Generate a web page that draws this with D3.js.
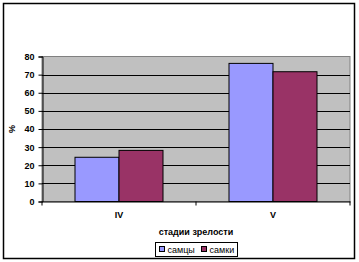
<!DOCTYPE html>
<html>
<head>
<meta charset="utf-8">
<script src="https://cdn.jsdelivr.net/npm/d3@7"></script>
<style>
  body { margin: 0; background: #fff; }
  text { font-family: "Liberation Sans", Arial, sans-serif; }
</style>
</head>
<body>
<script>
const w = 359;
const h = 262;

// data
const stages = ["IV", "V"];
const seriesNames = ["самцы", "самки"];
const males = [24.4, 76.2];
const females = [28.2, 71.6];
const yTicks = [0, 10, 20, 30, 40, 50, 60, 70, 80];
const colors = ["#9999ff", "#993366"];

const series = [males, females];

const svg = d3.select("body").append("svg").attr("width", w).attr("height", h);

// outer frame
svg.append("rect")
    .attr("x", 3.5).attr("y", 3.5)
    .attr("width", 351).attr("height", 255)
    .attr("fill", "#fff")
    .attr("stroke", "#000")
    .attr("stroke-width", 1.5);

const plot = {left: 42, right: 350, top: 56.5, bottom: 201.5};

const x = d3.scaleBand()
    .domain(stages)
    .range([plot.left, plot.right]);

const xs = d3.scaleBand()
    .domain(d3.range(series.length))
    .range([0, x.bandwidth()])
    .paddingOuter(33 / 44)
    .paddingInner(0);

const y = d3.scaleLinear()
    .domain([0, 80])
    .range([plot.bottom, plot.top]);

// plot background
svg.append("rect")
    .attr("x", plot.left).attr("y", plot.top)
    .attr("width", plot.right - plot.left).attr("height", plot.bottom - plot.top)
    .attr("fill", "#c0c0c0")
    .attr("stroke", "#808080")
    .attr("stroke-width", 1);

// gridlines
svg.append("g")
    .selectAll("line")
    .data(yTicks.slice(1, -1))
    .join("line")
    .attr("x1", plot.left).attr("x2", plot.right)
    .attr("y1", d => Math.round(y(d)) + 0.5)
    .attr("y2", d => Math.round(y(d)) + 0.5)
    .attr("stroke", "#000");

// bars
series.forEach((vals, si) => {
    svg.append("g")
        .selectAll("rect")
        .data(vals)
        .join("rect")
        .attr("x", (d, i) => x(stages[i]) + xs(si))
        .attr("y", d => y(d))
        .attr("width", xs.bandwidth())
        .attr("height", d => y(0) - y(d))
        .attr("fill", colors[si])
        .attr("stroke", "#000")
        .attr("stroke-width", 1);
});

// y axis
const yAxis = svg.append("g")
    .attr("transform", `translate(${plot.left + 0.5},0)`)
    .call(d3.axisLeft(y).tickValues(yTicks).tickSize(4).tickPadding(4));
yAxis.select(".domain").attr("stroke", "#000");
yAxis.selectAll("text")
    .attr("font-size", "9px")
    .attr("font-weight", "bold")
    .attr("fill", "#000");

// x axis
const xAxis = svg.append("g")
    .attr("transform", `translate(0,${plot.bottom})`)
    .call(d3.axisBottom(x).tickSize(0).tickPadding(10));
xAxis.select(".domain").attr("stroke", "#000");
xAxis.selectAll("text")
    .attr("font-size", "9px")
    .attr("font-weight", "bold")
    .attr("fill", "#000");
xAxis.selectAll(".sep")
    .data([plot.left, (plot.left + plot.right) / 2, plot.right])
    .join("line")
    .attr("class", "sep")
    .attr("x1", d => d).attr("x2", d => d)
    .attr("y1", 0).attr("y2", 4)
    .attr("stroke", "#000");

// axis titles
svg.append("text")
    .attr("x", (plot.left + plot.right) / 2)
    .attr("y", 235)
    .attr("text-anchor", "middle")
    .attr("font-size", "9px")
    .attr("font-weight", "bold")
    .text("стадии зрелости");

svg.append("text")
    .attr("transform", `translate(15,${(plot.top + plot.bottom) / 2}) rotate(-90)`)
    .attr("text-anchor", "middle")
    .attr("font-size", "9px")
    .attr("font-weight", "bold")
    .text("%");

// legend
const legend = svg.append("g").attr("transform", "translate(155.5,242.5)");
legend.append("rect")
    .attr("width", 82).attr("height", 14)
    .attr("fill", "#fff")
    .attr("stroke", "#000");
const items = legend.selectAll("g.item")
    .data(seriesNames)
    .join("g")
    .attr("class", "item")
    .attr("transform", (d, i) => `translate(${4 + i * 42},0)`);
items.append("rect")
    .attr("x", 0).attr("y", 4)
    .attr("width", 5).attr("height", 5)
    .attr("fill", (d, i) => colors[i])
    .attr("stroke", "#000");
items.append("text")
    .attr("x", 8).attr("y", 10.5)
    .attr("font-size", "9px")
    .text(d => d);
</script>
</body>
</html>
